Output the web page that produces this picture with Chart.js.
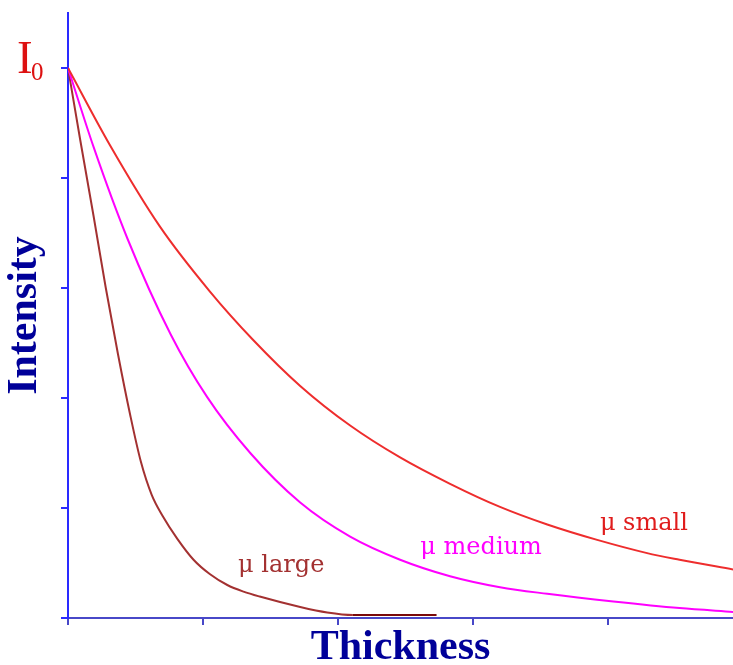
<!DOCTYPE html>
<html>
<head>
<meta charset="utf-8">
<script src="https://cdn.jsdelivr.net/npm/chart.js@4/dist/chart.umd.min.js"></script>
<style>
  html, body { margin: 0; padding: 0; background: #ffffff; }
  #wrap { width: 733px; height: 665px; }
</style>
</head>
<body>
<div id="wrap"><canvas id="c" width="733" height="665"></canvas></div>
<script>
// ---- data ----
const xTickValues = [0, 1, 2, 3, 4];
const yTickValues = [0, 1, 2, 3, 4, 5];

const smallX  = [0, 0.31, 0.68, 1.05, 1.37, 1.72, 2.09, 2.46, 2.83, 3.20, 3.55, 3.92, 4.29, 4.53, 4.93];
const smallY  = [5, 4.30, 3.56, 2.97, 2.53, 2.11, 1.75, 1.46, 1.22, 1.01, 0.85, 0.71, 0.59, 0.53, 0.44];

const mediumX = [0, 0.19, 0.44, 0.76, 1.03, 1.35, 1.72, 2.09, 2.46, 2.83, 3.20, 3.55, 4.04, 4.53, 4.93];
const mediumY = [5, 4.28, 3.45, 2.58, 2.01, 1.50, 1.05, 0.74, 0.53, 0.38, 0.28, 0.22, 0.15, 0.09, 0.055];

const largeX  = [0, 0.09, 0.19, 0.28, 0.37, 0.46, 0.54, 0.62, 0.70, 0.81, 0.93, 1.05, 1.18, 1.30, 1.42, 1.72, 1.92, 2.11, 2.73];
const largeY  = [5, 4.35, 3.65, 3.00, 2.40, 1.85, 1.42, 1.12, 0.93, 0.72, 0.53, 0.40, 0.30, 0.24, 0.195, 0.10, 0.05, 0.027, 0.027];

const curveNames = ['μ large', 'μ medium', 'μ small'];

// ---- styling / placement ----
const AXIS_Y = '#2a2aff';
const AXIS_X = '#4848c8';
const NAVY = '#000099';
const RED = '#ee2d2d';
const MAGENTA = '#ff00ff';
const BROWN = '#a33131';
const BROWN_DARK = '#7a0a0a';

const labelPlacement = [
  { x: 1.26, y: 0.42, color: BROWN },
  { x: 2.61, y: 0.58, color: MAGENTA },
  { x: 3.94, y: 0.80, color: '#e01c1c' }
];

const toPoints = (xs, ys) => xs.map((x, i) => ({ x: x, y: ys[i] }));

const textPlugin = {
  id: 'textPlugin',
  afterDatasetsDraw(chart) {
    const { ctx, scales: { x, y } } = chart;
    ctx.save();
    ctx.textBaseline = 'alphabetic';
    ctx.textAlign = 'left';
    ctx.font = '24px "DejaVu Serif"';
    curveNames.forEach((t, i) => {
      const p = labelPlacement[i];
      ctx.fillStyle = p.color;
      ctx.fillText(t, x.getPixelForValue(p.x), y.getPixelForValue(p.y));
    });
    // I0 label at the top tick
    const y5 = y.getPixelForValue(yTickValues[yTickValues.length - 1]);
    ctx.fillStyle = '#dd1111';
    ctx.font = '47px "Liberation Serif"';
    ctx.fillText('I', 17, y5 + 5);
    ctx.font = '25px "Liberation Serif"';
    ctx.fillText('0', 31, y5 + 12);
    ctx.restore();
  }
};

new Chart(document.getElementById('c'), {
  type: 'line',
  data: {
    datasets: [
      {
        label: curveNames[2],
        data: toPoints(smallX, smallY),
        borderColor: RED,
        borderWidth: 2,
        pointRadius: 0,
        fill: false,
        cubicInterpolationMode: 'monotone'
      },
      {
        label: curveNames[1],
        data: toPoints(mediumX, mediumY),
        borderColor: MAGENTA,
        borderWidth: 2,
        pointRadius: 0,
        fill: false,
        cubicInterpolationMode: 'monotone'
      },
      {
        label: curveNames[0],
        data: toPoints(largeX, largeY),
        borderColor: BROWN,
        borderWidth: 2,
        pointRadius: 0,
        fill: false,
        cubicInterpolationMode: 'monotone',
        segment: {
          borderColor: c => (c.p0.parsed.x >= 2.1 ? BROWN_DARK : BROWN)
        }
      }
    ]
  },
  options: {
    responsive: false,
    animation: false,
    events: [],
    layout: { padding: { left: 0, top: 13, right: 0, bottom: 0 } },
    plugins: { legend: { display: false }, tooltip: { enabled: false } },
    scales: {
      x: {
        type: 'linear',
        position: 'bottom',
        min: 0,
        max: 4.926,
        afterBuildTicks: s => { s.ticks = xTickValues.map(v => ({ value: v })); },
        ticks: { display: false },
        grid: { drawOnChartArea: false, drawTicks: true, tickLength: 7, color: AXIS_X, lineWidth: 2 },
        border: { display: true, color: AXIS_X, width: 2 },
        title: {
          display: true,
          text: 'Thickness',
          color: NAVY,
          font: { family: 'Liberation Serif', size: 42, weight: 'bold', lineHeight: 0.8 },
          padding: { top: 6.4, bottom: 0 }
        }
      },
      y: {
        type: 'linear',
        min: 0,
        max: 5.5,
        afterBuildTicks: s => { s.ticks = yTickValues.map(v => ({ value: v })); },
        ticks: { display: false },
        grid: { drawOnChartArea: false, drawTicks: true, tickLength: 7, color: AXIS_Y, lineWidth: 2 },
        border: { display: true, color: AXIS_Y, width: 2 },
        title: {
          display: true,
          text: 'Intensity',
          color: NAVY,
          font: { family: 'Liberation Serif', size: 42, weight: 'bold', lineHeight: 0.8 },
          padding: { top: 8, bottom: 19.4 }
        }
      }
    }
  },
  plugins: [textPlugin]
});
</script>
</body>
</html>
